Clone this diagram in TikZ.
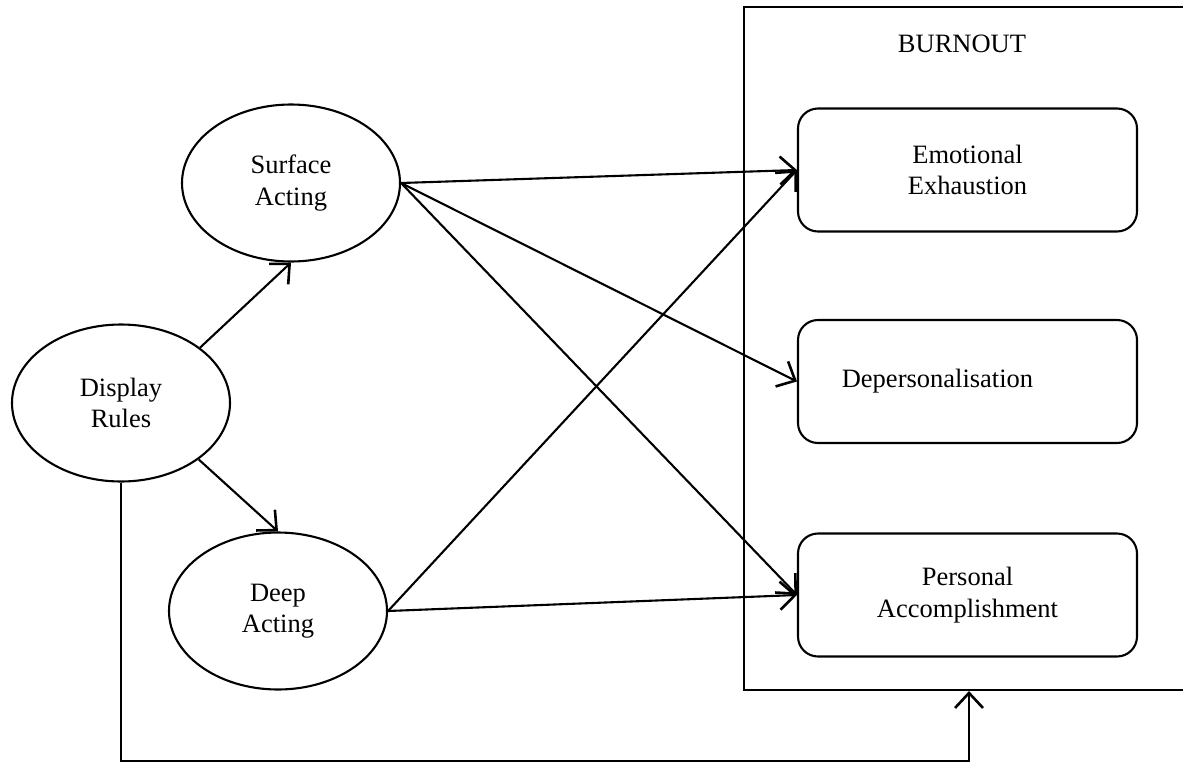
\documentclass[tikz,border=0pt]{standalone}
\usepackage{fontspec}
\setmainfont{Liberation Serif}
\usetikzlibrary{arrows.meta,shapes.geometric}
\begin{document}
\begin{tikzpicture}[x=1pt,y=-1pt,line width=2.1pt,
        font=\fontsize{26.5}{31.5}\selectfont,
        oval/.style={draw,ellipse,minimum width=218pt,minimum height=157pt,align=center,inner sep=0pt},
        dimbox/.style={draw,rounded corners=20pt,minimum width=339pt,minimum height=123pt,align=center},
        arr/.style={-{Straight Barb[length=15pt,width=28pt,line width=2.6pt]}}]
        \useasboundingbox (0,0) rectangle (1183,763);
        \node[draw,minimum width=450pt,minimum height=683pt,inner sep=0pt] (burnout) at (969,348.5) {};
        \node (title) at (962,44) {BURNOUT};
        \node[dimbox] (ee) at (967.5,170) {Emotional\\Exhaustion};
        \node[dimbox] (dp) at (967.5,381.5) {};
        \node (dptext) at ([xshift=-30pt]dp.center) {Depersonalisation};
        \node[dimbox] (pa) at (967.5,595) {Personal\\Accomplishment};
        \node[oval] (sa) at (291,183) {Surface\\Acting};
        \node[oval] (dr) at (121,403) {Display\\Rules};
        \node[oval] (da) at (278,611) {Deep\\Acting};
        \draw[arr] (dr.35) -- (sa.south);
        \draw[arr] (dr.-36) -- (da.north);
        \foreach \t in {ee,dp,pa}
            \draw[arr] (sa.east) -- (\t.west);
        \foreach \t in {ee,pa}
            \draw[arr] (da.east) -- (\t.west);
        \draw[arr] (dr.south) -- (dr.south |- 0,761) -| (burnout.south);
\end{tikzpicture}
\end{document}
